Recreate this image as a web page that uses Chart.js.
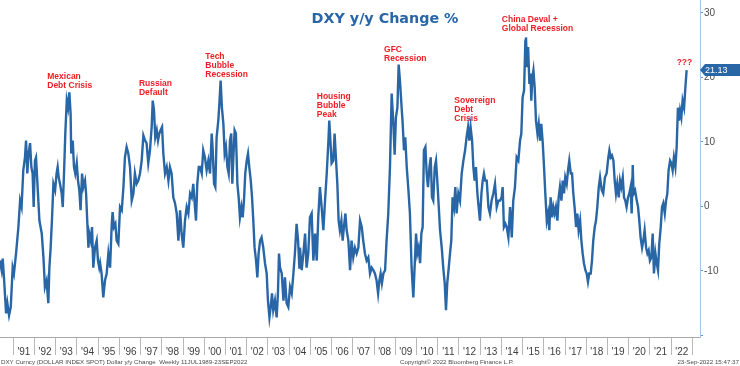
<!DOCTYPE html>
<html>
<head>
<meta charset="utf-8">
<script src="https://cdn.jsdelivr.net/npm/chart.js@4.4.0/dist/chart.umd.min.js"></script>
<style>
    html, body { margin: 0; padding: 0; background: #fff; }
    #wrap { width: 740px; height: 366px; }
</style>
</head>
<body>
<div id="wrap"><canvas id="chart" width="740" height="366"></canvas></div>
<script>
(function() {
    "use strict";

    // weekly DXY y/y % change (decimal years)
    var dates = [
        1990.37,1990.45,1990.50,1990.56,1990.66,1990.72,1990.80,1990.88,1990.97,
        1991.03,1991.13,1991.24,1991.32,1991.39,1991.47,1991.55,1991.60,1991.66,1991.72,1991.79,1991.85,1991.91,1991.96,
        1992.02,1992.07,1992.13,1992.23,1992.34,1992.42,1992.49,1992.57,1992.65,1992.70,1992.76,1992.82,1992.89,1992.97,
        1993.04,1993.09,1993.14,1993.20,1993.28,1993.33,1993.39,1993.45,1993.52,1993.58,1993.64,1993.70,1993.73,1993.80,1993.86,1993.92,1993.99,
        1994.05,1994.11,1994.17,1994.24,1994.30,1994.38,1994.43,1994.49,1994.54,1994.58,1994.65,1994.71,1994.77,1994.85,1994.93,1994.99,
        1995.05,1995.09,1995.16,1995.24,1995.32,1995.40,1995.48,1995.56,1995.64,1995.68,1995.74,1995.81,1995.87,1995.95,
        1996.03,1996.11,1996.19,1996.26,1996.34,1996.42,1996.50,1996.58,1996.66,1996.73,1996.81,1996.89,1996.97,
        1997.05,1997.13,1997.21,1997.28,1997.36,1997.44,1997.52,1997.57,1997.63,1997.69,1997.76,1997.82,1997.88,1997.94,
        1998.01,1998.07,1998.15,1998.23,1998.31,1998.38,1998.46,1998.54,1998.62,1998.70,1998.78,1998.86,1998.93,
        1999.01,1999.09,1999.17,1999.25,1999.33,1999.41,1999.48,1999.56,1999.61,1999.67,1999.74,1999.80,1999.88,1999.95,
        2000.03,2000.11,2000.19,2000.27,2000.35,2000.39,2000.46,2000.52,2000.58,2000.66,2000.71,2000.77,2000.83,2000.90,2000.96,
        2001.02,2001.09,2001.15,2001.21,2001.27,2001.32,2001.37,2001.43,2001.49,2001.56,2001.62,2001.68,2001.75,2001.81,2001.87,2001.93,
        2002.00,2002.06,2002.12,2002.19,2002.25,2002.31,2002.37,2002.44,2002.50,2002.56,2002.63,2002.70,2002.78,2002.86,2002.94,
        2003.00,2003.07,2003.13,2003.19,2003.25,2003.33,2003.41,2003.47,2003.52,2003.57,2003.65,2003.73,2003.80,2003.88,2003.96,
        2004.04,2004.12,2004.20,2004.27,2004.35,2004.42,2004.48,2004.51,2004.59,2004.67,2004.75,2004.82,2004.90,2004.98,
        2005.06,2005.14,2005.22,2005.30,2005.37,2005.45,2005.53,2005.61,2005.69,2005.77,2005.85,2005.89,2005.96,
        2006.00,2006.08,2006.14,2006.21,2006.27,2006.33,2006.39,2006.46,2006.52,2006.58,2006.65,2006.71,2006.79,2006.87,2006.94,
        2007.02,2007.10,2007.18,2007.26,2007.34,2007.42,2007.49,2007.57,2007.65,2007.73,2007.81,2007.89,2007.97,
        2008.04,2008.12,2008.19,2008.25,2008.31,2008.37,2008.44,2008.52,2008.59,2008.67,2008.75,2008.83,2008.91,2008.97,
        2009.03,2009.10,2009.16,2009.22,2009.30,2009.35,2009.41,2009.47,2009.54,2009.62,2009.69,2009.77,2009.85,2009.91,2009.98,
        2010.04,2010.10,2010.17,2010.23,2010.29,2010.35,2010.42,2010.48,2010.54,2010.61,2010.67,2010.73,2010.79,2010.86,2010.92,2010.98,
        2011.05,2011.11,2011.19,2011.26,2011.33,2011.39,2011.45,2011.52,2011.58,2011.64,2011.70,2011.77,2011.83,2011.89,2011.97,
        2012.05,2012.13,2012.21,2012.29,2012.36,2012.43,2012.49,2012.55,2012.62,2012.68,2012.74,2012.80,2012.87,2012.93,2012.99,
        2013.06,2013.12,2013.18,2013.24,2013.31,2013.39,2013.46,2013.54,2013.62,2013.70,2013.78,2013.86,2013.94,
        2014.01,2014.06,2014.12,2014.19,2014.25,2014.33,2014.41,2014.49,2014.56,2014.64,2014.72,2014.80,2014.88,2014.94,
        2015.00,2015.07,2015.13,2015.16,2015.21,2015.26,2015.32,2015.37,2015.41,2015.46,2015.51,2015.57,2015.63,2015.70,2015.76,2015.82,2015.88,2015.95,
        2016.01,2016.07,2016.14,2016.20,2016.26,2016.32,2016.39,2016.45,2016.51,2016.57,2016.64,2016.70,2016.76,2016.83,2016.89,2016.95,
        2017.01,2017.08,2017.14,2017.20,2017.27,2017.33,2017.39,2017.45,2017.52,2017.58,2017.64,2017.71,2017.77,2017.83,2017.89,2017.96,
        2018.02,2018.08,2018.14,2018.21,2018.27,2018.33,2018.40,2018.46,2018.52,2018.59,2018.65,2018.73,2018.80,2018.88,2018.96,
        2019.04,2019.09,2019.15,2019.21,2019.28,2019.34,2019.40,2019.46,2019.53,2019.59,2019.65,2019.72,2019.78,2019.84,2019.90,2019.97,
        2020.03,2020.09,2020.14,2020.19,2020.23,2020.30,2020.38,2020.44,2020.50,2020.56,2020.63,2020.69,2020.75,2020.82,2020.88,2020.94,
        2021.00,2021.07,2021.13,2021.19,2021.26,2021.32,2021.38,2021.44,2021.51,2021.57,2021.63,2021.70,2021.76,2021.82,2021.88,2021.95,
        2022.01,2022.07,2022.13,2022.20,2022.26,2022.32,2022.37,2022.42,2022.48,2022.54,2022.61,2022.67,2022.73
    ];
    var yoy = [
        -8.4,-9.9,-8.1,-11.0,-16.6,-15.0,-16.9,-15.6,-9.5,
        -10.4,-7.3,-3.2,0.9,-0.1,5.6,7.6,10.2,5.1,8.2,9.8,6.1,5.1,-0.1,
        7.1,7.6,4.0,-2.2,-4.2,-7.9,-12.5,-11.5,-15.0,-9.5,-6.4,-2.2,3.5,2.5,
        5.1,6.1,4.5,3.5,2.0,-0.1,5.1,11.3,16.4,15.3,17.7,14.4,8.2,10.2,6.1,5.1,6.7,
        4.0,2.5,-0.6,5.1,3.0,4.0,2.0,-2.7,-6.4,-4.2,-5.3,-3.2,-9.5,-6.4,-5.3,-8.4,
        -9.5,-8.8,-10.4,-14.1,-11.5,-10.4,-7.3,-9.5,-2.7,-0.9,-3.2,-2.7,-5.3,-5.8,
        -0.1,-0.6,3.0,7.6,9.2,8.2,6.1,0.9,2.0,5.1,3.5,4.0,5.1,
        7.1,11.0,10.2,9.8,6.7,8.7,12.3,16.4,14.9,10.7,11.8,10.2,11.3,11.8,
        12.3,8.2,5.1,6.1,4.0,6.1,5.1,1.4,0.5,-1.1,-5.3,-0.6,-4.2,
        -6.4,-2.2,-0.1,-1.1,2.0,1.4,3.5,-0.1,-2.2,3.5,6.1,6.1,5.1,8.7,
        7.6,5.6,7.1,5.1,11.3,9.2,3.5,3.0,10.7,13.3,15.9,19.5,15.3,12.8,8.2,
        9.2,6.1,5.1,10.2,11.3,3.5,7.6,11.8,11.3,3.5,1.4,-1.7,-0.1,-1.7,0.9,5.1,
        7.1,8.2,6.1,4.0,1.4,-2.2,-6.4,-8.4,-11.0,-7.3,-5.3,-4.8,-6.4,-8.8,-10.4,
        -14.6,-17.2,-15.6,-13.5,-16.1,-14.6,-17.2,-13.5,-7.3,-9.5,-10.4,-14.6,-11.0,-15.0,-15.6,
        -12.5,-13.5,-10.4,-7.3,-2.7,-5.3,-9.5,-6.4,-9.9,-7.3,-4.2,-9.5,-7.3,-1.7,
        -1.1,-8.4,-4.2,-8.4,-1.7,3.0,-0.1,-3.7,0.9,5.1,10.2,13.3,9.2,
        6.7,7.1,11.3,7.1,3.5,-2.2,-3.7,-2.2,-5.3,-3.2,-1.1,-3.7,-5.3,-9.9,-5.3,
        -7.9,-6.4,-7.3,-6.4,-2.2,-3.2,-5.3,-7.3,-8.4,-7.9,-10.4,-9.5,-9.9,
        -10.4,-11.5,-13.5,-11.5,-10.4,-11.9,-10.4,-9.9,-5.3,-1.1,6.1,17.5,12.8,8.0,
        13.8,15.3,22.0,19.5,15.3,12.8,8.7,10.7,6.1,2.5,-1.1,-9.5,-14.1,-9.5,-4.2,
        -7.3,-6.4,-8.8,-4.2,-3.2,8.7,9.2,5.1,3.0,6.1,7.6,1.4,0.9,6.1,7.1,4.0,
        -0.1,-3.7,-6.4,-9.5,-11.9,-16.1,-11.9,-9.5,-7.3,-5.3,1.4,-0.1,3.0,-1.1,2.0,
        0.9,5.1,7.1,8.7,10.7,12.3,10.2,12.3,10.2,6.1,4.0,6.1,2.0,-0.1,-2.2,
        2.0,4.0,5.1,4.0,4.0,-0.1,-1.1,0.9,2.0,3.5,-0.1,0.9,0.9,
        1.4,3.0,-3.2,-2.7,-3.2,-4.8,-0.1,-4.8,0.9,3.0,7.6,7.1,10.2,11.3,
        16.9,18.0,25.7,26.2,21.6,24.7,19.0,20.6,16.4,20.0,21.1,18.4,13.3,11.3,12.8,10.2,12.8,9.8,
        6.1,2.0,-2.2,-1.1,-3.7,1.4,-1.7,-0.1,-1.1,-0.1,-2.2,1.4,3.0,0.9,4.0,2.0,
        4.5,3.5,5.6,7.1,5.1,5.1,2.0,-0.1,-3.2,-1.1,-3.7,-2.2,-5.3,-7.3,-8.8,-9.9,
        -10.4,-11.7,-10.4,-10.4,-8.4,-5.3,-3.2,-2.2,-0.1,3.0,4.5,2.5,2.0,4.5,5.1,
        7.6,8.7,7.6,7.9,7.1,4.0,2.0,3.5,1.4,4.0,3.0,4.5,1.4,0.9,-0.1,1.4,
        2.0,3.0,-1.1,6.4,2.0,2.5,0.9,-0.1,-2.2,-4.8,-6.4,-5.3,-3.7,-6.4,-7.3,-6.8,
        -8.4,-7.9,-4.2,-10.4,-7.3,-8.8,-9.9,-5.8,-3.2,-0.1,0.5,-1.1,0.9,2.0,5.6,7.1,
        6.7,5.6,7.6,6.1,9.2,15.3,13.3,14.9,13.8,16.4,15.3,18.4,21.13
    ];

    var yearTicks = [1991,1992,1993,1994,1995,1996,1997,1998,1999,2000,2001,2002,2003,2004,2005,2006,
                     2007,2008,2009,2010,2011,2012,2013,2014,2015,2016,2017,2018,2019,2020,2021,2022,2023];
    var yearLabels = ["'91","'92","'93","'94","'95","'96","'97","'98","'99","'00","'01","'02","'03","'04","'05","'06",
                      "'07","'08","'09","'10","'11","'12","'13","'14","'15","'16","'17","'18","'19","'20","'21","'22",""];
    var yTicks = [-20, -10, 0, 10, 20, 30];
    var yTickLabels = ['', '-10', '0', '10', '20', '30'];

    var notes = [
        {lines: ['Mexican', 'Debt Crisis'], year: 1992.60, value: 20.1},
        {lines: ['Russian', 'Default'], year: 1996.92, value: 19.0},
        {lines: ['Tech', 'Bubble', 'Recession'], year: 2000.05, value: 23.15},
        {lines: ['Housing', 'Bubble', 'Peak'], year: 2005.30, value: 16.95},
        {lines: ['GFC', 'Recession'], year: 2008.47, value: 24.35},
        {lines: ['Sovereign', 'Debt', 'Crisis'], year: 2011.78, value: 16.33},
        {lines: ['China Deval +', 'Global Recession'], year: 2014.02, value: 28.9},
        {lines: ['???'], year: 2022.26, value: 22.3}
    ];

    var BLUE = '#2866a6';
    var RED = '#ee1c24';

    var overlay = {
        id: 'overlay',
        afterDatasetsDraw: function(chart) {
            var ctx = chart.ctx;
            var xs = chart.scales.x, ys = chart.scales.y;
            ctx.save();

            // event annotations
            ctx.fillStyle = RED;
            ctx.font = 'bold 8.5px "Liberation Sans", Arial, sans-serif';
            ctx.textAlign = 'left';
            ctx.textBaseline = 'middle';
            notes.forEach(function(n) {
                var px = xs.getPixelForValue(n.year);
                var py = ys.getPixelForValue(n.value);
                n.lines.forEach(function(t, i) {
                    ctx.fillText(t, px, py + i * 9);
                });
            });

            // title
            ctx.fillStyle = BLUE;
            ctx.font = 'bold 14.3px "DejaVu Sans", Verdana, sans-serif';
            ctx.textAlign = 'center';
            ctx.fillText('DXY y/y Change %', 385, 19);

            // last value tag on the right axis
            var last = yoy[yoy.length - 1];
            var ty = Math.round(ys.getPixelForValue(last));
            var ax = ys.left;
            ctx.fillStyle = BLUE;
            ctx.beginPath();
            ctx.moveTo(ax, ty);
            ctx.lineTo(ax + 5, ty - 6);
            ctx.lineTo(740, ty - 6);
            ctx.lineTo(740, ty + 6);
            ctx.lineTo(ax + 5, ty + 6);
            ctx.closePath();
            ctx.fill();
            ctx.fillStyle = '#ffffff';
            ctx.font = '9px "Liberation Sans", Arial, sans-serif';
            ctx.textAlign = 'left';
            ctx.fillText(last.toFixed(2), ax + 5, ty + 0.5);

            // footer
            ctx.fillStyle = '#4a4a4a';
            ctx.font = '6.2px "Liberation Sans", Arial, sans-serif';
            ctx.textAlign = 'left';
            ctx.fillText('DXY Curncy (DOLLAR INDEX SPOT) Dollar y/y Change  Weekly 11JUL1989-23SEP2022', 1, 362);
            ctx.fillText('Copyright\u00a9 2022 Bloomberg Finance L.P.', 400, 362);
            ctx.textAlign = 'right';
            ctx.fillText('23-Sep-2022 15:47:37', 739, 362);
            ctx.restore();
        }
    };

    new Chart(document.getElementById('chart'), {
        type: 'line',
        data: {
            datasets: [{
                data: dates.map(function(d, i) { return {x: d, y: yoy[i]}; }),
                borderColor: BLUE,
                borderWidth: 2.4,
                pointRadius: 0,
                tension: 0,
                fill: false
            }]
        },
        options: {
            responsive: false,
            animation: false,
            devicePixelRatio: 1,
            layout: {padding: 0},
            plugins: {
                legend: {display: false},
                tooltip: {enabled: false},
                title: {display: false}
            },
            scales: {
                x: {
                    type: 'linear',
                    min: 1990.373,
                    max: 2023.36,
                    afterBuildTicks: function(scale) {
                        scale.ticks = yearTicks.map(function(v) { return {value: v}; });
                    },
                    afterFit: function(scale) {
                        scale.height = 29;
                        scale.paddingLeft = 0;
                        scale.paddingRight = 0;
                    },
                    border: {color: '#a8a8a8', width: 1},
                    grid: {drawOnChartArea: false, tickLength: 18, color: '#b8b8b8'},
                    ticks: {
                        autoSkip: false,
                        maxRotation: 0,
                        minRotation: 0,
                        padding: -9,
                        labelOffset: 10.6,
                        color: '#3c3c3c',
                        font: {family: '"Liberation Sans", Arial, sans-serif', size: 10},
                        callback: function(v, i) { return yearLabels[i]; }
                    }
                },
                y: {
                    position: 'right',
                    min: -20.25,
                    max: 32.0,
                    afterBuildTicks: function(scale) {
                        scale.ticks = yTicks.map(function(v) { return {value: v}; });
                    },
                    afterFit: function(scale) {
                        scale.width = 40;
                        scale.paddingTop = 0;
                        scale.paddingBottom = 0;
                    },
                    border: {color: '#a9c5e4', width: 1},
                    grid: {drawOnChartArea: false, tickLength: 3, color: '#6c93bf'},
                    ticks: {
                        padding: 1,
                        color: '#4d4d4d',
                        font: {family: '"Liberation Sans", Arial, sans-serif', size: 10},
                        callback: function(v, i) { return yTickLabels[i]; }
                    }
                }
            }
        },
        plugins: [overlay]
    });
}());
</script>
</body>
</html>
